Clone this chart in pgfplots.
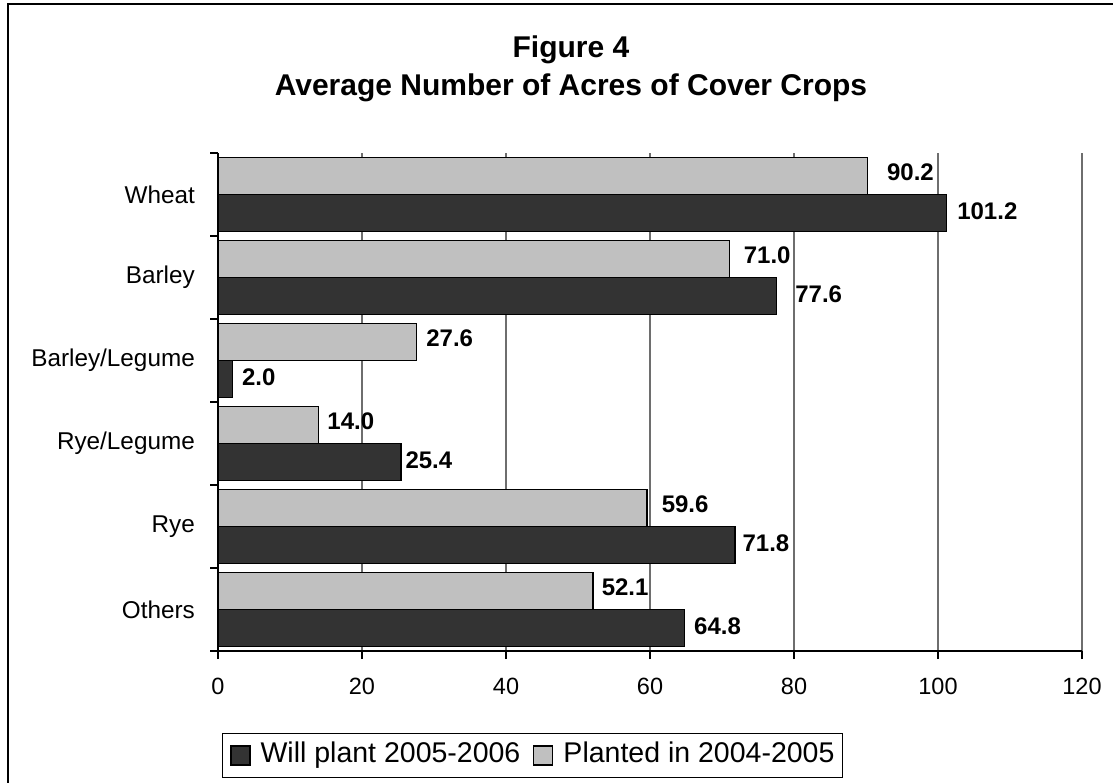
\documentclass[border=0pt]{standalone}
\usepackage{fontspec}
\setmainfont{Liberation Sans}
\usepackage{pgfplots}
\usepackage{pgfplotstable}
\pgfplotsset{compat=1.18}

\definecolor{darkbar}{RGB}{51,51,51}
\definecolor{lightbar}{RGB}{192,192,192}
\definecolor{gridgray}{RGB}{110,110,110}

\newcommand{\titlefont}{\fontsize{30}{36}\selectfont\bfseries}
\newcommand{\tickfont}{\fontsize{23.5}{28}\selectfont}
\newcommand{\catfont}{\fontsize{24.3}{29}\selectfont}
\newcommand{\valfont}{\fontsize{24}{29}\selectfont\bfseries}
\newcommand{\legfont}{\fontsize{28.5}{34}\selectfont}

% pos: row (0 = Others ... 5 = Wheat); gap: space before the value label (pt)
\pgfplotstableread{
pos acres gap
0   64.8  9
1   71.8  7
2   25.4  4
3   2.0   9
4   77.6  18
5   101.2 10
}\willplant
\pgfplotstableread{
pos acres gap
0   52.1  8
1   59.6  14
2   14.0  8
3   27.6  9
4   71.0  14
5   90.2  19
}\planted

\begin{document}
\begin{tikzpicture}
% page area and chart frame
\useasboundingbox (0pt,0pt) rectangle (1113pt,-782pt);
\draw[line width=1.6pt] (8pt,-4pt) rectangle (1140pt,-820pt);

% two-line title
\node[font=\titlefont, anchor=base] at (571pt,-57pt) {Figure 4};
\node[font=\titlefont, anchor=base] at (571pt,-95pt) {Average Number of Acres of Cover Crops};

\begin{axis}[
  at={(218pt,-651pt)}, anchor=south west,
  scale only axis, width=864pt, height=498pt,
  xmin=0, xmax=120, ymin=-0.5, ymax=5.5,
  axis lines=left,
  axis line style={-, line width=1.2pt, black},
  xtick={0,20,...,120},
  xmajorgrids,
  major grid style={gridgray, line width=1.1pt},
  tick align=outside,
  major tick length=8pt,
  tick style={black, line width=1.1pt},
  ytick={-0.5,0.5,...,5.5},
  yticklabels={},
  extra y ticks={0,1,2,3,4,5},
  extra y tick labels={Others,Rye,Rye/Legume,Barley/Legume,Barley,Wheat},
  extra y tick style={major tick length=0pt, grid=none},
  yticklabel style={font=\catfont, inner sep=0pt, xshift=-23pt},
  xticklabel style={font=\tickfont, inner sep=0pt, yshift=-19pt},
  /pgf/number format/assume math mode=true,
  point meta=x,
  visualization depends on={\thisrow{gap} \as \labelgap},
  nodes near coords={\pgfmathprintnumber[fixed,fixed zerofill,precision=1]{\pgfplotspointmeta}},
  nodes near coords style={font=\valfont, anchor=west, inner sep=0pt, xshift=\labelgap pt},
  legend columns=2,
  legend image code/.code={\draw[#1, line width=1.1pt] (0pt,-9.5pt) rectangle (19pt,9.5pt);},
  legend style={
    at={(0.0046,-0.1647)}, anchor=north west,
    draw=black, line width=1pt,
    font=\legfont,
    inner xsep=8pt, inner ysep=9pt,
    nodes={inner sep=0pt, text height=20pt, text depth=6pt},
    /tikz/every odd column/.append style={column sep=10pt},
    /tikz/every even column/.append style={column sep=13pt},
  },
]
% lower bar of each pair
\addplot[xbar, bar width=0.446, bar shift=-0.223, fill=darkbar, draw=black, line width=1.3pt,
  every node near coord/.append style={yshift=-17pt}]
  table[x=acres, y=pos] {\willplant};
\addlegendentry{Will plant 2005-2006}
% upper bar of each pair
\addplot[xbar, bar width=0.446, bar shift=0.223, fill=lightbar, draw=black, line width=1.3pt,
  every node near coord/.append style={yshift=22pt}]
  table[x=acres, y=pos] {\planted};
\addlegendentry{Planted in 2004-2005}
\end{axis}
\end{tikzpicture}
\end{document}
